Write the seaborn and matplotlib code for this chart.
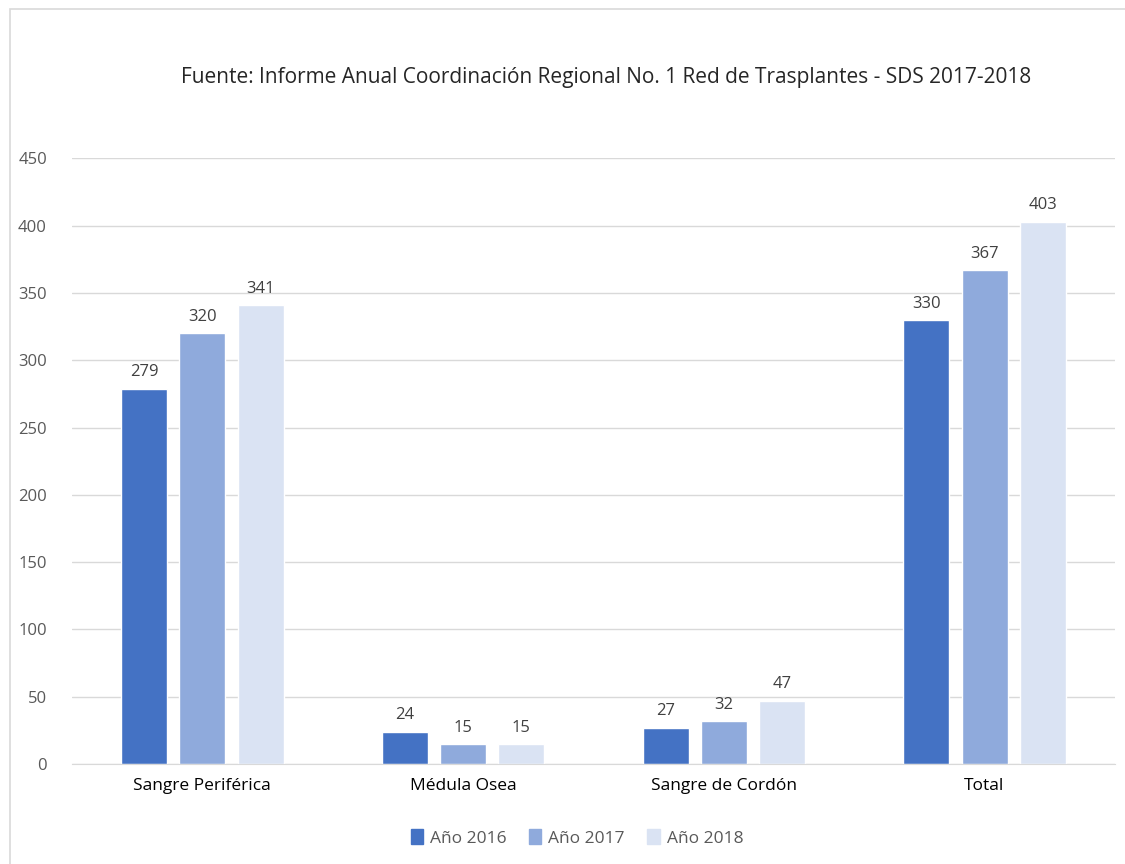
import pandas as pd
import matplotlib.pyplot as plt
import matplotlib.patches as mpatches
import seaborn as sns

# data

categorias = ['Sangre Periférica', 'Médula Osea', 'Sangre de Cordón', 'Total']
series = ['Año 2016', 'Año 2017', 'Año 2018']
valores_2016 = [279, 24, 27, 330]
valores_2017 = [320, 15, 32, 367]
valores_2018 = [341, 15, 47, 403]
colores = ['#4472C4', '#8FAADC', '#DAE3F3']

df = pd.DataFrame({
    'categoria': categorias * 3,
    'serie': [s for s in series for _ in categorias],
    'valor': valores_2016 + valores_2017 + valores_2018,
})

sns.set_style('white')
plt.rcParams['font.family'] = ['Open Sans', 'DejaVu Sans']

fig = plt.figure(figsize=(11.25, 8.64), dpi=100)
ax = fig.add_axes([0.064, 0.1157, 0.927, 0.701])

sns.barplot(data=df, x='categoria', y='valor', hue='serie', order=categorias,
            hue_order=series, palette=colores, width=0.67, gap=0.21,
            saturation=1, legend=False, ax=ax)

for c in ax.containers:
    ax.bar_label(c, padding=6, fontsize=12, color='#404040')

ax.set_ylim(0, 450)
ax.set_xlim(-0.5, 3.5)
ax.set_yticks(range(0, 451, 50))
ax.yaxis.grid(True, color='#D9D9D9', linewidth=1)
ax.set_axisbelow(True)
for s in ['top', 'right', 'left']:
    ax.spines[s].set_visible(False)
ax.spines['bottom'].set_color('#D9D9D9')
ax.tick_params(axis='y', colors='#595959', labelsize=12, length=0, pad=18)
ax.tick_params(axis='x', labelsize=12.5, length=0, pad=10, labelcolor='#000000')
ax.set_xlabel('')
ax.set_ylabel('')

fig.text(0.539, 0.91,
         'Fuente: Informe Anual Coordinación Regional No. 1 Red de Trasplantes - SDS 2017-2018',
         ha='center', va='center', fontsize=15,
         family=['Liberation Sans Narrow', 'Open Sans', 'DejaVu Sans'])

handles = [mpatches.Patch(color=c, label=s) for c, s in zip(colores, series)]
fig.legend(handles=handles, loc='center', bbox_to_anchor=(0.513, 0.030), ncol=3,
           frameon=False, fontsize=12.5, handlelength=0.7, handleheight=0.9,
           handletextpad=0.4, columnspacing=1.3, labelcolor='#595959')

fig.patches.append(mpatches.Rectangle((0.009, -0.01), 1.2, 1.0, transform=fig.transFigure,
                                      fill=False, edgecolor='#D9D9D9', linewidth=1.2))

plt.savefig('out.png', dpi=100)
